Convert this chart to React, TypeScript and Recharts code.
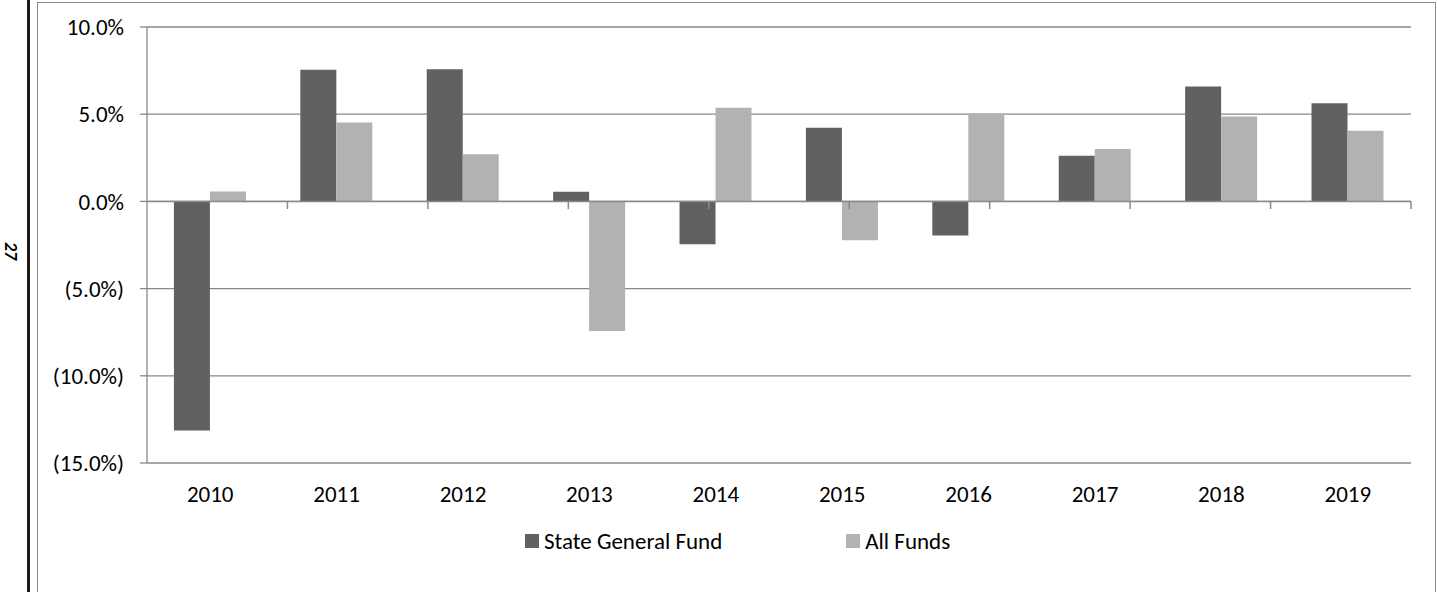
import React from 'react';
import { BarChart, Bar, XAxis, YAxis, CartesianGrid, ReferenceLine } from 'recharts';

const years = ['2010', '2011', '2012', '2013', '2014', '2015', '2016', '2017', '2018', '2019'];
const stateGeneralFund = [-13.13, 7.55, 7.58, 0.55, -2.46, 4.22, -1.95, 2.62, 6.59, 5.63];
const allFunds = [0.57, 4.52, 2.71, -7.43, 5.37, -2.23, 5.04, 3.0, 4.87, 4.05];
const yTicks = [-15, -10, -5, 0, 5, 10];
const seriesNames = ['State General Fund', 'All Funds'];

const data = years.map((y, i) => ({ year: y, sgf: stateGeneralFund[i], af: allFunds[i] }));
const boundaries = years.map((_, i) => i + 1);

const FONT = 'Carlito, Calibri, Lato, sans-serif';
const DARK = '#616161';
const LIGHT = '#b2b2b2';
const GRID = '#898989';
const FS = 23;

const fmt = (v: number) => (v < 0 ? `(${Math.abs(v).toFixed(1)}%)` : `${v.toFixed(1)}%`);

export default function App() {
  return (
    <div style={{ position: 'absolute', left: 0, top: 0, width: 1437, height: 592, background: '#fff', overflow: 'hidden' }}>
      <div style={{ position: 'absolute', left: 27, top: 0, width: 2.5, height: 592, background: '#1a1a1a' }} />
      <div style={{ position: 'absolute', left: 37, top: 2, width: 1397, height: 600, border: '1.5px solid #8a8a8a' }} />
      <div
        style={{
          position: 'absolute', left: 11, top: 251, transform: 'translate(-50%, -50%) rotate(90deg)',
          fontFamily: FONT, fontWeight: 'bold', fontStyle: 'italic', fontSize: 18, color: '#000', whiteSpace: 'nowrap',
        }}
      >
        27
      </div>
      <div style={{ position: 'absolute', left: 37, top: 2 }}>
        <BarChart
          width={1399}
          height={590}
          data={data}
          margin={{ top: 25, right: 25, bottom: 89, left: 0 }}
          barCategoryGap="21.3%"
          barGap={0}
        >
          <CartesianGrid horizontal vertical={false} stroke={GRID} strokeWidth={1.3} />
          <XAxis
            dataKey="year"
            xAxisId="cat"
            axisLine={false}
            tickLine={false}
            tickSize={0}
            tickMargin={23}
            height={40}
            interval={0}
            tick={{ fill: '#000', fontFamily: FONT, fontSize: FS }}
          />
          <XAxis xAxisId="num" type="number" domain={[0, 10]} hide />
          <YAxis
            width={110}
            domain={[-15, 10]}
            ticks={yTicks}
            interval={0}
            tickFormatter={fmt}
            axisLine={{ stroke: GRID, strokeWidth: 1.3 }}
            tickLine={{ stroke: GRID, strokeWidth: 1.3 }}
            tickSize={7}
            tickMargin={16}
            tick={{ fill: '#000', fontFamily: FONT, fontSize: FS }}
          />
          <Bar dataKey="sgf" xAxisId="cat" name={seriesNames[0]} fill={DARK} isAnimationActive={false} />
          <Bar dataKey="af" xAxisId="cat" name={seriesNames[1]} fill={LIGHT} isAnimationActive={false} />
          <ReferenceLine y={0} xAxisId="cat" stroke={GRID} strokeWidth={1.5} />
          {boundaries.map((b) => (
            <ReferenceLine
              key={b}
              xAxisId="num"
              segment={[{ x: b, y: 0 }, { x: b, y: -0.44 }]}
              stroke={GRID}
              strokeWidth={1.5}
            />
          ))}
        </BarChart>
      </div>
      <div
        style={{
          position: 'absolute', left: 525, top: 527, display: 'flex', gap: 124, alignItems: 'center',
          fontFamily: FONT, fontSize: FS, color: '#000', whiteSpace: 'nowrap', lineHeight: '28px',
        }}
      >
        {[DARK, LIGHT].map((c, i) => (
          <div key={i} style={{ display: 'flex', alignItems: 'center' }}>
            <span style={{ display: 'inline-block', width: 14, height: 14, background: c, marginRight: 5 }} />
            <span>{seriesNames[i]}</span>
          </div>
        ))}
      </div>
    </div>
  );
}
